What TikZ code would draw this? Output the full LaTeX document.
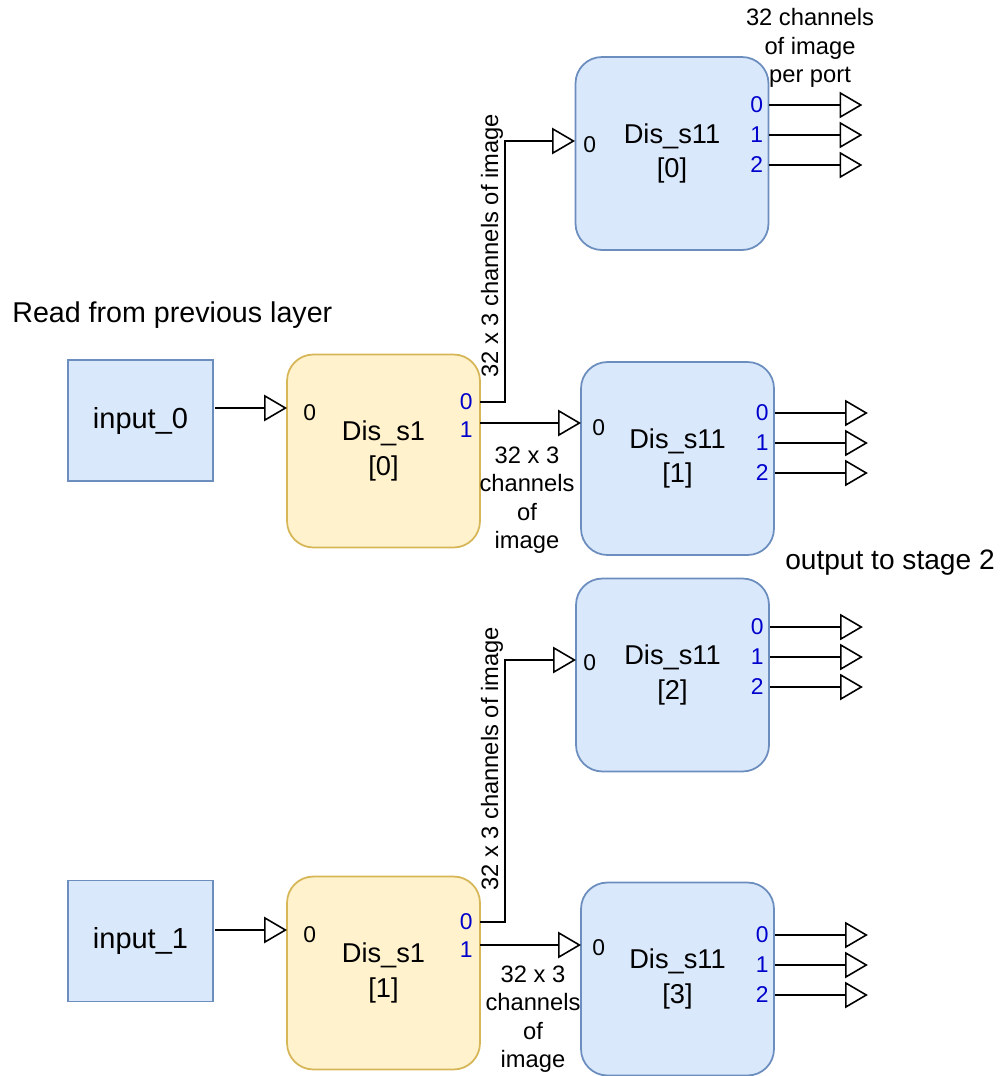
\documentclass[tikz,border=0pt]{standalone}
\usepackage{fontspec}
\setmainfont{Liberation Sans}
\usepackage{xcolor}
\usepackage{tikz}
\usetikzlibrary{arrows.meta,positioning,calc}

\definecolor{inblue}{HTML}{DAE8FC}
\definecolor{inblueline}{HTML}{6C8EBF}
\definecolor{disyellow}{HTML}{FFF2CC}
\definecolor{disyellowline}{HTML}{D6B656}
\definecolor{portblue}{HTML}{0000CC}

\tikzset{
  inputbox/.style={draw=inblueline, fill=inblue, line width=1pt, minimum width=2.9cm,
    minimum height=2.42cm, inner sep=0pt, font=\fontsize{16.5}{20}\selectfont},
  disbox/.style={draw=#1line, fill=#1, line width=1pt, rounded corners=15pt,
    minimum width=3.86cm, minimum height=3.86cm, inner sep=0pt, align=center,
    font=\fontsize{15.5}{19.5}\selectfont},
  conn/.style={line width=0.9pt, -{Triangle[open, length=13pt, width=15pt]}},
  portin/.style={anchor=west, inner sep=0pt, font=\fontsize{13}{15}\selectfont},
  portout/.style={anchor=east, inner sep=0pt, text=portblue, font=\fontsize{13}{15}\selectfont},
  chanlbl/.style={inner sep=0pt, align=center, font=\fontsize{13.5}{16.2}\selectfont},
}

\begin{document}
\begin{tikzpicture}[x=0.02cm, y=-0.02cm]
    \useasboundingbox (0,0) rectangle (1005,1076);

    % inputs
    \node[anchor=west, inner sep=0pt, font=\fontsize{16.3}{19}\selectfont] (readlbl) at (12,315) {Read from previous layer};
    \node[inputbox] (in0) at (140.5,420.5) {input\_0};
    \node[inputbox] (in1) at (140.5,941) {input\_1};

    % stage 1
    \node[disbox=disyellow] (s1a) at (383.5,451) {Dis\_s1\\{[0]}};
    \node[disbox=disyellow] (s1b) at (383.5,973) {Dis\_s1\\{[1]}};

    % stage 11
    \node[disbox=inblue] (s11a) at (672,153.5) {Dis\_s11\\{[0]}};
    \node[disbox=inblue] (s11b) at (677.5,458.5) {Dis\_s11\\{[1]}};
    \node[disbox=inblue] (s11c) at (672.5,675) {Dis\_s11\\{[2]}};
    \node[disbox=inblue] (s11d) at (677.5,979) {Dis\_s11\\{[3]}};

    % ports
    \coordinate (in0-o) at (215,408);
    \coordinate (in1-o) at (215,930);
    \coordinate (s1a-i0) at (287,408);
    \coordinate (s1b-i0) at (287,930);
    \coordinate (s1a-o0) at (480,402);
    \coordinate (s1a-o1) at (480,423);
    \coordinate (s1b-o0) at (480,922);
    \coordinate (s1b-o1) at (480,945);
    \coordinate (s11a-i0) at (575,141);
    \coordinate (s11b-i0) at (581,423);
    \coordinate (s11c-i0) at (576,660);
    \coordinate (s11d-i0) at (581,945);

    \node[portin] (s1a-l0) at (303,413) {0};
    \node[portin] (s1b-l0) at (303,935) {0};
    \node[portout] (s1a-l1) at (473,402) {0};
    \node[portout] (s1a-l2) at (473,430) {1};
    \node[portout] (s1b-l1) at (473,922) {0};
    \node[portout] (s1b-l2) at (473,950) {1};
    \node[portin] (s11a-l0) at (583,145) {0};
    \node[portin] (s11b-l0) at (592,428) {0};
    \node[portin] (s11c-l0) at (583,663) {0};
    \node[portin] (s11d-l0) at (592,948) {0};

    % links
    \draw[conn] (in0-o) -- (s1a-i0);
    \draw[conn] (in1-o) -- (s1b-i0);
    \draw[conn] (s1a-o0) -- ++(25,0) |- (s11a-i0);
    \draw[conn] (s1a-o1) -- (s11b-i0);
    \draw[conn] (s1b-o0) -- ++(25,0) |- (s11c-i0);
    \draw[conn] (s1b-o1) -- (s11d-i0);

    \node[chanlbl, rotate=90] (ch-a) at (492,246) {32 x 3 channels of image};
    \node[chanlbl, rotate=90] (ch-c) at (492,759) {32 x 3 channels of image};
    \node[chanlbl] (ch-b) at (527,500) {32 x 3\\channels\\of\\image};
    \node[chanlbl] (ch-d) at (533,1019) {32 x 3\\channels\\of\\image};

    % outputs to stage 2
    \foreach \b/\y in {s11a/105, s11b/413, s11c/627, s11d/935} {
      \foreach \p in {0,1,2} {
        \coordinate (\b-o\p) at ($(\b.east |- {(0,\y)}) + (0,30*\p)$);
        \node[portout] (\b-n\p) at ($(\b-o\p) + (-6,0)$) {\p};
        \draw[conn] (\b-o\p) -- ++(93,0);
      }
    }

    \node[chanlbl] (perport) at (810,48) {32 channels\\of image\\per port};
    \node[font=\fontsize{16}{19}\selectfont] (stage2) at (890,563) {output to stage 2};
  \end{tikzpicture}
\end{document}
